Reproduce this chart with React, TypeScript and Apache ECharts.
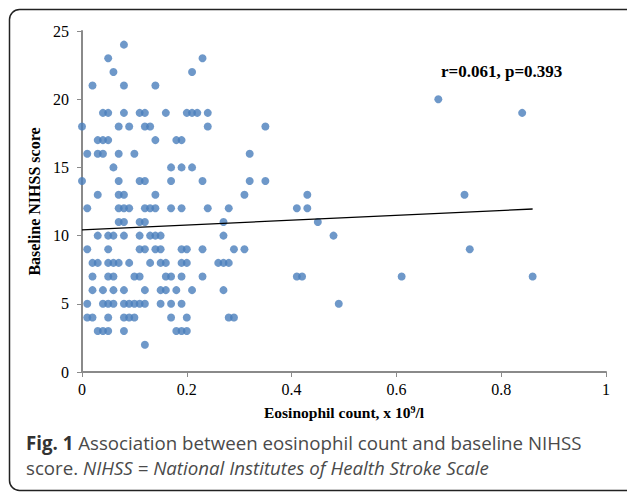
import React, { useEffect, useRef } from "react";
import * as echarts from "echarts";

// Eosinophil count (x 10^9/l) and baseline NIHSS score, paired by index
const eosinophil = [
  0.08,
  0.05, 0.23,
  0.06, 0.21,
  0.02, 0.08, 0.14,
  0.68,
  0.04, 0.05, 0.08, 0.11, 0.12, 0.16, 0.20, 0.21, 0.22, 0.24, 0.84,
  0.00, 0.07, 0.09, 0.12, 0.13, 0.24, 0.35,
  0.03, 0.04, 0.05, 0.14, 0.18, 0.19,
  0.01, 0.03, 0.04, 0.07, 0.10, 0.32,
  0.06, 0.17, 0.19, 0.21,
  0.00, 0.07, 0.11, 0.12, 0.17, 0.23, 0.32, 0.35,
  0.03, 0.07, 0.08, 0.14, 0.31, 0.43, 0.73,
  0.01, 0.07, 0.08, 0.09, 0.12, 0.13, 0.14, 0.17, 0.19, 0.24, 0.28, 0.41, 0.43,
  0.07, 0.08, 0.11, 0.12, 0.27, 0.45,
  0.03, 0.05, 0.06, 0.08, 0.11, 0.13, 0.14, 0.15, 0.27, 0.48,
  0.01, 0.05, 0.11, 0.12, 0.14, 0.15, 0.19, 0.20, 0.23, 0.29, 0.31, 0.74,
  0.02, 0.03, 0.05, 0.06, 0.07, 0.09, 0.13, 0.15, 0.16, 0.19, 0.20, 0.26, 0.27, 0.28,
  0.02, 0.05, 0.06, 0.10, 0.11, 0.16, 0.17, 0.19, 0.23, 0.41, 0.42, 0.61, 0.86,
  0.02, 0.04, 0.06, 0.08, 0.12, 0.15, 0.16, 0.18, 0.21, 0.27,
  0.01, 0.04, 0.05, 0.06, 0.08, 0.09, 0.10, 0.11, 0.12, 0.15, 0.17, 0.19, 0.49,
  0.01, 0.02, 0.05, 0.08, 0.09, 0.10, 0.17, 0.20, 0.28, 0.29,
  0.03, 0.04, 0.05, 0.08, 0.18, 0.19, 0.20,
  0.12,
];

const nihss = [
  24,
  23, 23,
  22, 22,
  21, 21, 21,
  20,
  19, 19, 19, 19, 19, 19, 19, 19, 19, 19, 19,
  18, 18, 18, 18, 18, 18, 18,
  17, 17, 17, 17, 17, 17,
  16, 16, 16, 16, 16, 16,
  15, 15, 15, 15,
  14, 14, 14, 14, 14, 14, 14, 14,
  13, 13, 13, 13, 13, 13, 13,
  12, 12, 12, 12, 12, 12, 12, 12, 12, 12, 12, 12, 12,
  11, 11, 11, 11, 11, 11,
  10, 10, 10, 10, 10, 10, 10, 10, 10, 10,
  9, 9, 9, 9, 9, 9, 9, 9, 9, 9, 9, 9,
  8, 8, 8, 8, 8, 8, 8, 8, 8, 8, 8, 8, 8, 8,
  7, 7, 7, 7, 7, 7, 7, 7, 7, 7, 7, 7, 7,
  6, 6, 6, 6, 6, 6, 6, 6, 6, 6,
  5, 5, 5, 5, 5, 5, 5, 5, 5, 5, 5, 5, 5,
  4, 4, 4, 4, 4, 4, 4, 4, 4, 4,
  3, 3, 3, 3, 3, 3, 3,
  2,
];

// Linear trend line endpoints
const trendX = [0, 0.86];
const trendY = [10.42, 11.95];

const xTicks = [0, 0.2, 0.4, 0.6, 0.8, 1];
const yTicks = [0, 5, 10, 15, 20, 25];

const statText = "r=0.061, p=0.393";
const captionLine1Bold = "Fig. 1";
const captionLine1 = " Association between eosinophil count and baseline NIHSS";
const captionLine2a = "score. ";
const captionLine2b = "NIHSS = National Institutes of Health Stroke Scale";

export default function App() {
  const ref = useRef<HTMLDivElement>(null);

  useEffect(() => {
    if (!ref.current) return;
    const chart = echarts.init(ref.current, null, { renderer: "svg" });
    const serif = "'Liberation Serif', 'Times New Roman', serif";
    const sans = "'Open Sans', 'Noto Sans', sans-serif";
    const axisColor = "#8a8a8a";

    chart.setOption({
      animation: false,
      backgroundColor: "#ffffff",
      grid: { left: 82, right: 21, top: 31, bottom: 122 },
      xAxis: {
        type: "value",
        min: xTicks[0],
        max: xTicks[xTicks.length - 1],
        interval: 0.2,
        splitLine: { show: false },
        axisLine: { show: true, lineStyle: { color: axisColor, width: 2 } },
        axisTick: { show: true, length: 5, lineStyle: { color: axisColor, width: 1 } },
        axisLabel: {
          margin: 9,
          color: "#000",
          fontFamily: serif,
          fontSize: 16,
          formatter: (v: number) => String(Math.round(v * 10) / 10),
        },
        name: "Eosinophil count, x 10{sup|9}/l",
        nameLocation: "middle",
        nameGap: 32,
        nameTextStyle: {
          color: "#000",
          fontFamily: serif,
          fontSize: 15.5,
          fontWeight: "bold",
          rich: {
            sup: {
              fontFamily: serif,
              fontSize: 10,
              fontWeight: "bold",
              verticalAlign: "top",
              padding: [0, 0, 6, 0],
              color: "#000",
            },
          },
        },
      },
      yAxis: {
        type: "value",
        min: yTicks[0],
        max: yTicks[yTicks.length - 1],
        interval: 5,
        splitLine: { show: false },
        axisLine: { show: true, lineStyle: { color: axisColor, width: 2 } },
        axisTick: { show: true, length: 5, lineStyle: { color: axisColor, width: 1 } },
        axisLabel: {
          margin: 13,
          color: "#000",
          fontFamily: serif,
          fontSize: 16,
        },
        name: "Baseline NIHSS score",
        nameLocation: "middle",
        nameRotate: 90,
        nameGap: 34,
        nameTextStyle: {
          color: "#000",
          fontFamily: serif,
          fontSize: 16,
          fontWeight: "bold",
        },
      },
      series: [
        {
          type: "scatter",
          symbol: "circle",
          symbolSize: 8,
          itemStyle: { color: "#4a7ebb" },
          data: eosinophil.map((x, i) => [x, nihss[i]]),
          z: 2,
        },
        {
          type: "line",
          data: trendX.map((x, i) => [x, trendY[i]]),
          symbol: "none",
          lineStyle: { color: "#000", width: 1.3 },
          z: 3,
        },
      ],
      graphic: [
        {
          type: "rect",
          shape: { x: 9.5, y: 9.5, width: 640, height: 481, r: 10 },
          style: { fill: "none", stroke: "#222", lineWidth: 1.5 },
          silent: true,
        },
        {
          type: "text",
          x: 441,
          y: 71,
          style: {
            text: statText,
            font: `bold 17px ${serif}`,
            fill: "#000",
            verticalAlign: "middle",
          },
        },
        {
          type: "text",
          x: 26,
          y: 442,
          style: {
            text: `{b|${captionLine1Bold}}{n|${captionLine1}}`,
            verticalAlign: "middle",
            rich: {
              b: { fontFamily: sans, fontSize: 18.7, fontWeight: "bold", fill: "#333" },
              n: { fontFamily: sans, fontSize: 18.7, fill: "#4a4a4a" },
            },
          },
        },
        {
          type: "text",
          x: 26,
          y: 467,
          style: {
            text: `{n|${captionLine2a}}{i|${captionLine2b}}`,
            verticalAlign: "middle",
            rich: {
              n: { fontFamily: sans, fontSize: 18.7, fill: "#4a4a4a" },
              i: { fontFamily: sans, fontSize: 18.7, fontStyle: "italic", fill: "#4a4a4a" },
            },
          },
        },
      ],
    });
    return () => chart.dispose();
  }, []);

  return <div ref={ref} style={{ width: 627, height: 494, position: "absolute", left: 0, top: 0 }} />;
}
